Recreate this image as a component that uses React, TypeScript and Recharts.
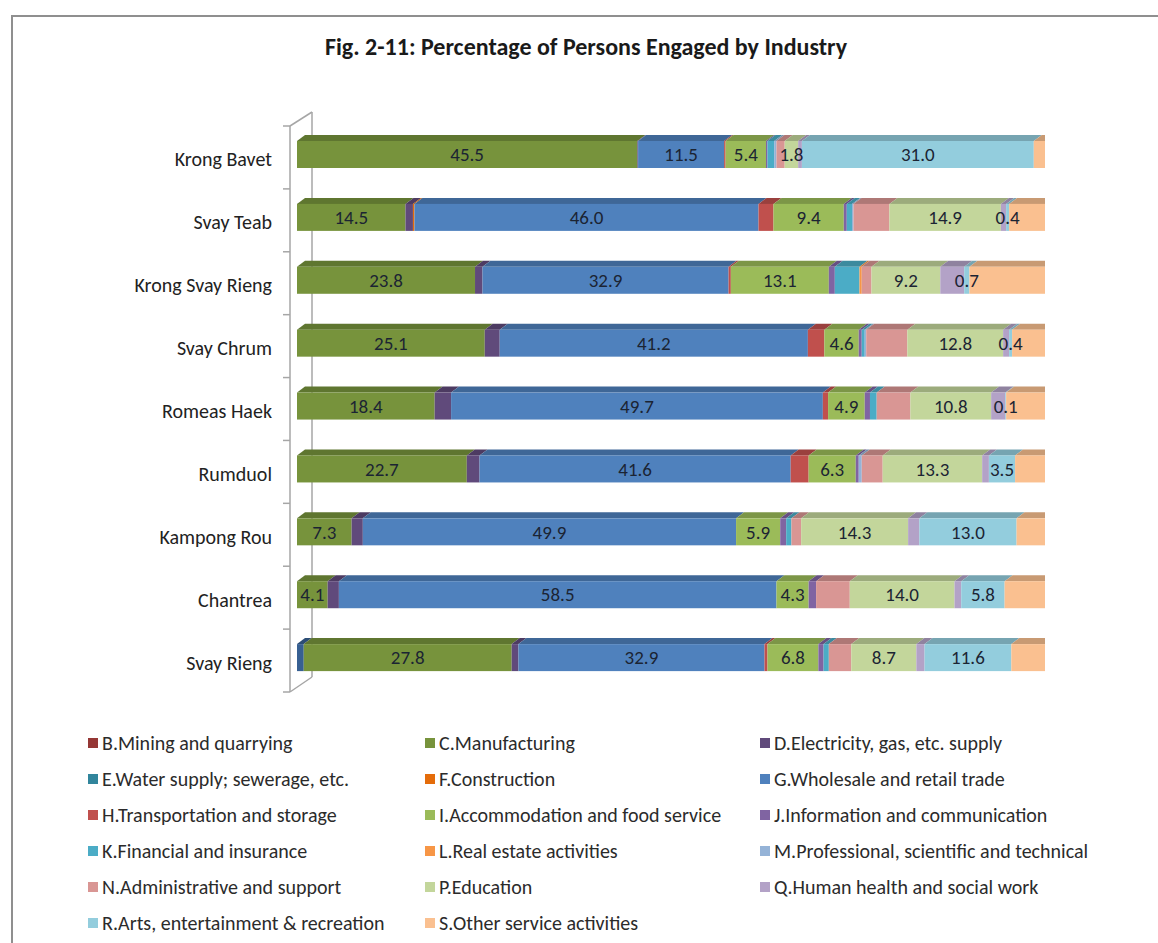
import React from 'react';
import { BarChart, Bar, XAxis, YAxis, LabelList } from 'recharts';

// districts, top to bottom
const districts = [
  'Krong Bavet',
  'Svay Teab',
  'Krong Svay Rieng',
  'Svay Chrum',
  'Romeas Haek',
  'Rumduol',
  'Kampong Rou',
  'Chantrea',
  'Svay Rieng',
];

// percentage of persons engaged, one array per industry (same order as districts)
const agriculture = [0, 0, 0, 0, 0, 0, 0, 0, 0.9];
const mining = [0, 0, 0, 0, 0, 0, 0, 0, 0];
const manufacturing = [45.5, 14.5, 23.8, 25.1, 18.4, 22.7, 7.3, 4.1, 27.8];
const electricity = [0.1, 1.0, 1.0, 2.0, 2.2, 1.7, 1.5, 1.5, 0.9];
const water = [0, 0, 0, 0, 0, 0, 0, 0, 0];
const construction = [0, 0.2, 0, 0, 0, 0, 0, 0, 0];
const wholesale = [11.5, 46.0, 32.9, 41.2, 49.7, 41.6, 49.9, 58.5, 32.9];
const transport = [0.2, 2.0, 0.3, 2.2, 0.7, 2.4, 0, 0, 0.4];
const accommodation = [5.4, 9.4, 13.1, 4.6, 4.9, 6.3, 5.9, 4.3, 6.8];
const information = [0.2, 0.4, 0.8, 0.4, 0.7, 0.4, 0.8, 1.0, 0.7];
const financial = [0.9, 0.7, 3.3, 0.4, 0.9, 0, 0.7, 0, 0.7];
const realEstate = [0, 0, 0.3, 0, 0, 0, 0, 0, 0];
const professional = [0.3, 0.2, 0, 0.2, 0, 0.4, 0, 0, 0];
const administrative = [1.1, 4.8, 1.3, 5.5, 4.5, 2.8, 1.3, 4.5, 3.0];
const education = [1.8, 14.9, 9.2, 12.8, 10.8, 13.3, 14.3, 14.0, 8.7];
const health = [0.5, 0.7, 3.2, 0.8, 1.9, 0.9, 1.5, 0.9, 1.1];
const arts = [31.0, 0.4, 0.7, 0.4, 0.1, 3.5, 13.0, 5.8, 11.6];
const otherService = [1.5, 4.8, 10.1, 4.4, 5.2, 4.0, 3.8, 5.4, 4.5];

const series = [
  { key: 'A', name: 'A.Agriculture', color: '#376092', values: agriculture, legend: false, label: false },
  { key: 'B', name: 'B.Mining and quarrying', color: '#953735', values: mining, legend: true, label: false },
  { key: 'C', name: 'C.Manufacturing', color: '#77933C', values: manufacturing, legend: true, label: true },
  { key: 'D', name: 'D.Electricity, gas, etc. supply', color: '#604A7B', values: electricity, legend: true, label: false },
  { key: 'E', name: 'E.Water supply; sewerage, etc.', color: '#31859C', values: water, legend: true, label: false },
  { key: 'F', name: 'F.Construction', color: '#E46C0A', values: construction, legend: true, label: false },
  { key: 'G', name: 'G.Wholesale and retail trade', color: '#4F81BD', values: wholesale, legend: true, label: true },
  { key: 'H', name: 'H.Transportation and storage', color: '#C0504D', values: transport, legend: true, label: false },
  { key: 'I', name: 'I.Accommodation and food service', color: '#9BBB59', values: accommodation, legend: true, label: true },
  { key: 'J', name: 'J.Information and communication', color: '#8064A2', values: information, legend: true, label: false },
  { key: 'K', name: 'K.Financial and insurance', color: '#4BACC6', values: financial, legend: true, label: false },
  { key: 'L', name: 'L.Real estate activities', color: '#F79646', values: realEstate, legend: true, label: false },
  { key: 'M', name: 'M.Professional, scientific and technical', color: '#95B3D7', values: professional, legend: true, label: false },
  { key: 'N', name: 'N.Administrative and support', color: '#D99694', values: administrative, legend: true, label: false },
  { key: 'P', name: 'P.Education', color: '#C3D69B', values: education, legend: true, label: true },
  { key: 'Q', name: 'Q.Human health and social work', color: '#B3A2C7', values: health, legend: true, label: false },
  { key: 'R', name: 'R.Arts, entertainment & recreation', color: '#93CDDD', values: arts, legend: true, label: true },
  { key: 'S', name: 'S.Other service activities', color: '#FAC090', values: otherService, legend: true, label: false },
];

const data = districts.map((district, i) => {
  const row: Record<string, string | number> = { district };
  series.forEach((s) => {
    row[s.key] = s.values[i];
  });
  return row;
});

const FONT = "Carlito, Lato, 'Open Sans', sans-serif";
const CHART_W = 1158;
const CHART_H = 700;
const PLOT_TOP = 123;
const PLOT_H = 566;
const PLOT_LEFT = 297;
const PLOT_RIGHT = 1045;
const DEPTH_X = 8;
const DEPTH_Y = 6;

const shade = (hex: string, f: number) => {
  const n = parseInt(hex.slice(1), 16);
  const r = Math.round(((n >> 16) & 255) * f);
  const g = Math.round(((n >> 8) & 255) * f);
  const b = Math.round((n & 255) * f);
  return `rgb(${r},${g},${b})`;
};

const makeShape = (color: string, isLast: boolean) => (props: any) => {
  const { x, y, width, height } = props;
  if (!width || width <= 0) return <g />;
  return (
    <g>
      <polygon
        points={`${x},${y} ${x + DEPTH_X},${y - DEPTH_Y} ${x + width + DEPTH_X},${y - DEPTH_Y} ${x + width},${y}`}
        fill={shade(color, 0.8)}
      />
      {isLast && (
        <polygon
          points={`${x + width},${y} ${x + width + DEPTH_X},${y - DEPTH_Y} ${x + width + DEPTH_X},${y + height - DEPTH_Y} ${x + width},${y + height}`}
          fill="#B0774C"
        />
      )}
      <rect x={x} y={y} width={width} height={height} fill={color} />
    </g>
  );
};

const DistrictTick = (props: any) => {
  const { y, payload } = props;
  return (
    <text x={PLOT_LEFT - 25} y={y + 5} textAnchor="end" dominantBaseline="central" fontFamily={FONT} fontSize={20} fill="#222">
      {payload.value}
    </text>
  );
};

const Wall = () => {
  const band = PLOT_H / districts.length;
  const fx = 290;
  const bx = 312;
  const top = PLOT_TOP + 3;
  const bottom = top + PLOT_H;
  const ticks = Array.from({ length: districts.length + 1 }, (_, k) => top + k * band);
  return (
    <svg width={CHART_W} height={CHART_H} style={{ position: 'absolute', left: 0, top: 0 }}>
      <g stroke="#a6a6a6" strokeWidth={1.5} fill="none">
        <line x1={fx} y1={top} x2={fx} y2={bottom} />
        <line x1={bx} y1={top - 14} x2={bx} y2={bottom - 15} />
        <line x1={fx} y1={top} x2={bx} y2={top - 14} />
        <line x1={fx} y1={bottom} x2={bx} y2={bottom - 15} />
        {ticks.map((t, k) => (
          <line key={k} x1={fx - 7} y1={t} x2={fx} y2={t} />
        ))}
      </g>
    </svg>
  );
};

const legendCols = [88, 425, 760];
const legendTop = 743;
const legendStep = 36;

const App = () => {
  const legendItems = series.filter((s) => s.legend);
  return (
    <div style={{ position: 'absolute', left: 0, top: 0, width: 1158, height: 943, overflow: 'hidden', background: '#fff', fontFamily: FONT }}>
      <div
        style={{
          position: 'absolute',
          left: 11,
          top: 15,
          width: 1170,
          height: 960,
          border: '2px solid #8f8f8f',
          boxSizing: 'border-box',
        }}
      />
      <div
        style={{
          position: 'absolute',
          left: 0,
          width: 1172,
          top: 32,
          textAlign: 'center',
          fontWeight: 700,
          fontSize: 24,
          lineHeight: '30px',
          color: '#1a1a1a',
        }}
      >
        Fig. 2-11: Percentage of Persons Engaged by Industry
      </div>
      <Wall />
      <div style={{ position: 'absolute', left: 0, top: 0 }}>
        <BarChart
          width={CHART_W}
          height={CHART_H}
          data={data}
          layout="vertical"
          barSize={27}
          margin={{ top: PLOT_TOP, right: CHART_W - PLOT_RIGHT, bottom: CHART_H - PLOT_TOP - PLOT_H, left: 0 }}
        >
          <XAxis type="number" domain={[0, 100]} allowDataOverflow hide />
          <YAxis
            type="category"
            dataKey="district"
            width={PLOT_LEFT}
            axisLine={false}
            tickLine={false}
            tick={<DistrictTick />}
            interval={0}
          />
          {series.map((s, idx) => (
            <Bar
              key={s.key}
              dataKey={s.key}
              name={s.name}
              stackId="total"
              fill={s.color}
              isAnimationActive={false}
              shape={makeShape(s.color, idx === series.length - 1)}
            >
              {s.label && (
                <LabelList
                  dataKey={s.key}
                  position="center"
                  formatter={(v: any) => Number(v).toFixed(1)}
                  style={{ fontFamily: FONT, fontSize: 19, fill: '#1b2433' }}
                />
              )}
            </Bar>
          ))}
        </BarChart>
      </div>
      {legendItems.map((s, i) => (
        <div
          key={s.key}
          style={{
            position: 'absolute',
            left: legendCols[i % 3],
            top: legendTop + Math.floor(i / 3) * legendStep - 13,
            height: 26,
            display: 'flex',
            alignItems: 'center',
            fontSize: 20,
            color: '#2b2b2b',
            whiteSpace: 'nowrap',
          }}
        >
          <span style={{ display: 'inline-block', width: 10, height: 10, background: s.color, marginRight: 4 }} />
          {s.name}
        </div>
      ))}
    </div>
  );
};

export default App;
